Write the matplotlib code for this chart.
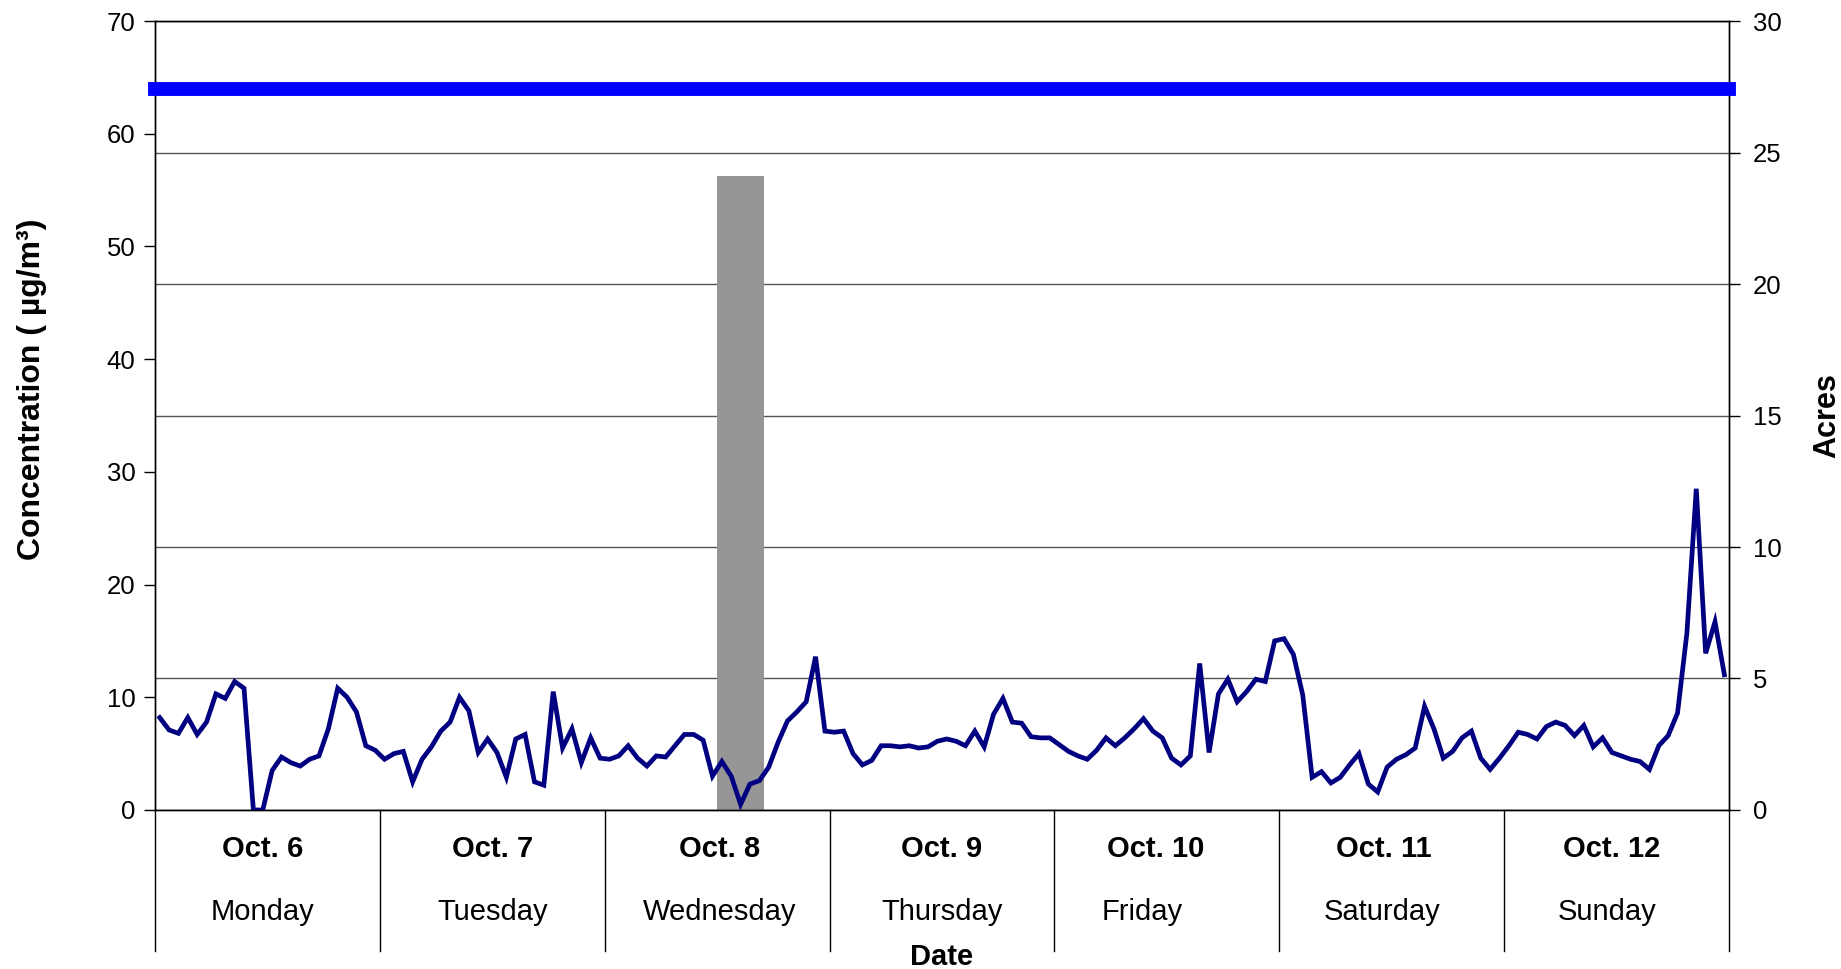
import matplotlib
matplotlib.use("Agg")
import matplotlib.pyplot as plt
import numpy as np
from matplotlib.transforms import blended_transform_factory

plt.rcParams['font.family'] = ['Liberation Sans', 'DejaVu Sans']

# hourly PM concentration, Oct 6 00:00 .. Oct 12 23:00 (ug/m3)
concentration = [
    8.2, 7.1, 6.8, 8.2, 6.7, 7.8, 10.3, 9.9, 11.4, 10.8, 0.0, 0.0,
    3.5, 4.7, 4.2, 3.9, 4.5, 4.8, 7.2, 10.8, 10.0, 8.7, 5.7, 5.3,
    4.5, 5.0, 5.2, 2.5, 4.5, 5.6, 7.0, 7.8, 10.0, 8.8, 5.1, 6.3,
    5.1, 2.9, 6.3, 6.7, 2.5, 2.2, 10.5, 5.5, 7.2, 4.2, 6.4, 4.6,
    4.5, 4.8, 5.7, 4.6, 3.9, 4.8, 4.7, 5.7, 6.7, 6.7, 6.2, 3.0,
    4.3, 3.0, 0.5, 2.3, 2.6, 3.8, 6.0, 7.9, 8.7, 9.6, 13.6, 7.0,
    6.9, 7.0, 5.0, 4.0, 4.4, 5.7, 5.7, 5.6, 5.7, 5.5, 5.6, 6.1,
    6.3, 6.1, 5.7, 7.0, 5.6, 8.5, 9.9, 7.8, 7.7, 6.5, 6.4, 6.4,
    5.8, 5.2, 4.8, 4.5, 5.3, 6.4, 5.7, 6.4, 7.2, 8.1, 7.0, 6.4,
    4.6, 4.0, 4.8, 13.0, 5.1, 10.3, 11.6, 9.6, 10.5, 11.6, 11.4, 15.0,
    15.2, 13.8, 10.2, 2.9, 3.4, 2.4, 2.9, 4.0, 5.0, 2.3, 1.6, 3.8,
    4.5, 4.9, 5.5, 9.2, 7.2, 4.6, 5.2, 6.4, 7.0, 4.6, 3.6, 4.6,
    5.7, 6.9, 6.7, 6.3, 7.4, 7.8, 7.5, 6.6, 7.5, 5.6, 6.4, 5.1,
    4.8, 4.5, 4.3, 3.6, 5.7, 6.6, 8.6, 15.7, 28.5, 13.9, 16.7, 12.0,
]
standard = 64

# burned acres (hour index -> acres)
burn_hours = [60, 61, 62, 63, 64]
burn_acres = [24.1, 24.1, 24.1, 24.1, 24.1]

dates = ['Oct. 6', 'Oct. 7', 'Oct. 8', 'Oct. 9', 'Oct. 10', 'Oct. 11', 'Oct. 12']
weekdays = ['Monday', 'Tuesday', 'Wednesday', 'Thursday', 'Friday', 'Saturday', 'Sunday']
day_shift = [-0.5, 0.0, 0.3, 0.0, -2.6, -1.0, -1.0]
date_shift = [-0.5, 0.0, 0.3, 0.0, -1.2, -0.8, -0.5]

hours = np.arange(len(concentration))
n_days = len(dates)

fig = plt.figure(figsize=(18.41, 9.69), dpi=100)
ax2 = fig.add_axes([0.0842, 0.1641, 0.8550, 0.8142])
ax = ax2.twinx()
ax.set_zorder(ax2.get_zorder() + 1)
ax.patch.set_visible(False)

# acres axis (right) with bars and gridlines
ax2.bar(burn_hours, burn_acres, width=1.0, color='#969696', edgecolor='none', zorder=2)
ax2.set_ylim(0, 30)
ax2.set_yticks(np.arange(0, 31, 5))
ax2.yaxis.tick_right()
ax2.yaxis.set_label_position('right')
ax2.grid(axis='y', color='#555555', linewidth=1.0, zorder=1)
ax2.set_axisbelow(True)
ax2.set_ylabel('Acres', fontsize=22, fontweight='bold', labelpad=22)
ax2.tick_params(axis='y', direction='out', length=8, width=1, pad=9, labelsize=18.5)

# concentration axis (left)
ax.yaxis.tick_left()
ax.yaxis.set_label_position('left')
ax.plot(hours, concentration, color='#000080', linewidth=3.4, zorder=3,
        solid_joinstyle='miter')
ax.axhline(standard, color='#0000ff', linewidth=10, solid_capstyle='projecting',
           clip_on=False, zorder=4)
ax.set_ylim(0, 70)
ax.set_yticks(np.arange(0, 71, 10))
ax.set_ylabel('Concentration ( µg/m³)', fontsize=23, fontweight='bold')
ax.yaxis.set_label_coords(-0.0686, 0.533)
ax.tick_params(axis='y', direction='out', length=8, width=1, pad=6, labelsize=18.5)

for a in (ax, ax2):
    a.set_xlim(-0.5, len(concentration) - 0.5)
    a.set_xticks([])
    for s in a.spines.values():
        s.set_linewidth(1.0)
        s.set_color('black')

# two-level category axis
tr = blended_transform_factory(ax.transData, ax.transAxes)
for k in range(n_days + 1):
    xb = -0.5 + 24 * k
    ax.plot([xb, xb], [0, -0.179], color='black', linewidth=1.0,
            transform=tr, clip_on=False)
for k in range(n_days):
    xc = 24 * k + 11.5
    ax.text(xc + date_shift[k], -0.05, dates[k], transform=tr, ha='center', va='center',
            fontsize=21, fontweight='bold')
    ax.text(xc + day_shift[k], -0.129, weekdays[k], transform=tr, ha='center', va='center',
            fontsize=21)
ax.text(0.5, -0.186, 'Date', transform=ax.transAxes, ha='center', va='center',
        fontsize=21, fontweight='bold')

fig.savefig('out.png', dpi=100)
